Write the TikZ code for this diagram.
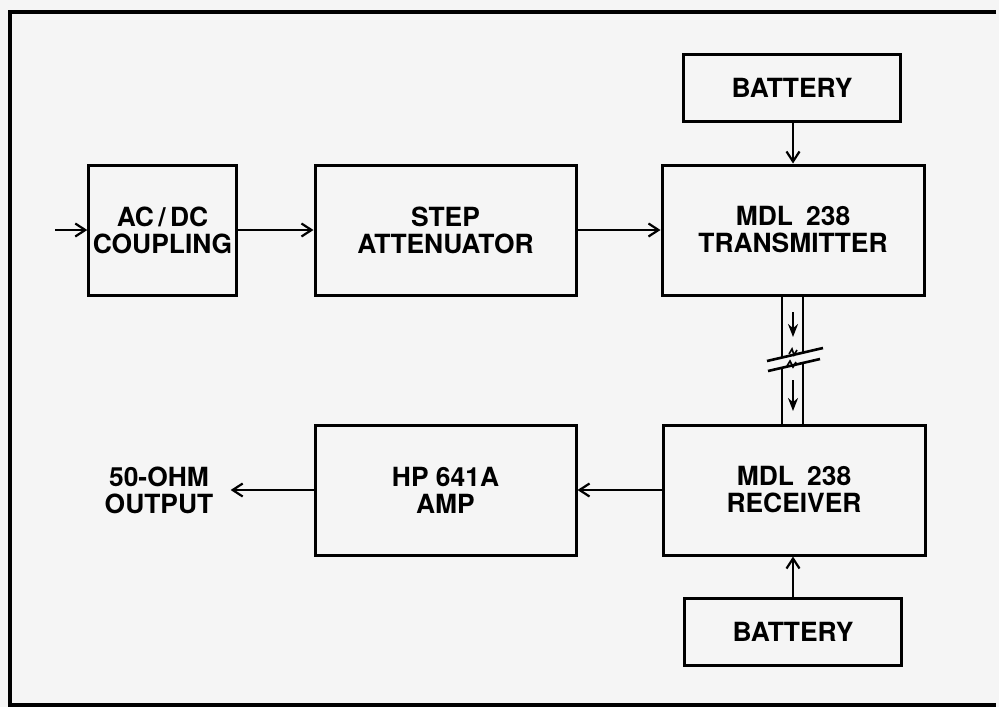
\documentclass[tikz,border=0pt]{standalone}
\usepackage{fontspec}
\setmainfont{TeX Gyre Heros}
\usetikzlibrary{arrows.meta, positioning, calc}

\tikzset{
    block/.style={draw, line width=1.5pt, minimum width=131pt, minimum height=65pt, align=center, inner sep=2pt},
    power/.style={draw, line width=1.5pt, minimum width=108.5pt, minimum height=33.5pt, align=center},
    sig/.style={line width=1.1pt, -{Straight Barb[length=5pt,width=6.5pt]}},
    flow/.style={line width=1.3pt, -{Stealth[length=6.5pt,width=5pt]}},
    wire/.style={line width=1.3pt},
}

\begin{document}
\begin{tikzpicture}[x=0.5pt, y=-0.5pt, font=\fontsize{13.2}{13.5}\selectfont\bfseries]
    \useasboundingbox (0,0) rectangle (999,707);
    \fill[black!4] (0,0) rectangle (999,707);
    \draw[line width=1.6pt] (996,12) -- (10,12) -- (10,705) -- (996,705);

    % top row
    \node[block, minimum width=65.5pt] (couple) at (162.5,230) {AC\,/\,DC\\COUPLING};
    \node[block, minimum width=130.5pt] (atten) at (445.5,230) {STEP\\ATTENUATOR};
    \node[block] (xmtr) at (793,230) {MDL\enspace 238\\TRANSMITTER};
    \node[power] (battx) at (792,87.5) {BATTERY};

    % bottom row
    \node[block] (rcvr) at (794,490) {MDL\enspace 238\\RECEIVER};
    \node[block, minimum width=130.5pt] (amp) at (445.5,490) {HP 641A\\AMP};
    \node[power] (battr) at (793,632) {BATTERY};
    \node[align=center, inner sep=8.5pt] (out) at (159,490) {50-OHM\\OUTPUT};

    \coordinate (in) at (55,230);
    \draw[sig] (in) -- (couple.west);
    \draw[sig] (couple.east) -- (atten.west);
    \draw[sig] (atten.east) -- (xmtr.west);
    \draw[sig] (battx.south -| xmtr.north) -- (xmtr.north);
    \draw[sig] (battr.north) -- (rcvr.south -| battr.north);
    \draw[sig] (rcvr.west) -- (amp.west -| amp.east);
    \draw[sig] (amp.west) -- (out.east);

    % link with break
    \coordinate (brkUL) at (782,357.5);
    \coordinate (brkUR) at (803,352.6);
    \coordinate (brkLL) at (782,367.8);
    \coordinate (brkLR) at (803,362.9);
    \draw[wire] (xmtr.south -| brkUL) -- (brkUL);
    \draw[wire] (xmtr.south -| brkUR) -- (brkUR);
    \draw[wire] (brkLL) -- (rcvr.north -| brkLL);
    \draw[wire] (brkLR) -- (rcvr.north -| brkLR);
    \draw[wire] (767,361) -- (823,348);
    \draw[wire] (768,371) -- (820,359);
    \draw[line width=0.8pt] (789,354) -- (792,349) -- (794,355) -- (797,350);
    \draw[line width=0.8pt] (787,366) -- (790,361) -- (793,367) -- (796,362);
    \draw[flow] (793,312) -- (793,337);
    \draw[flow] (793,380) -- (793,411);
\end{tikzpicture}
\end{document}
